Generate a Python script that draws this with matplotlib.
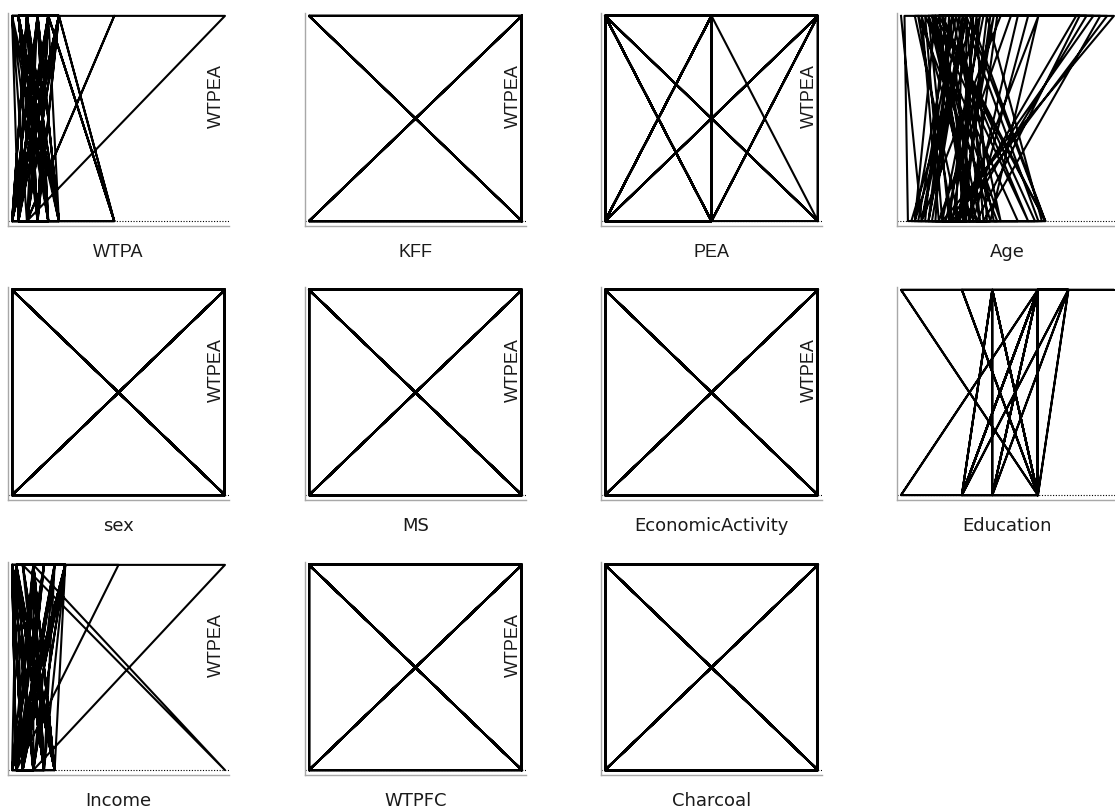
import matplotlib
matplotlib.use('Agg')
from matplotlib import pyplot as plt

# response variable, one value per respondent
WTPEA = [1, 0, 1, 1, 0, 0, 1, 0, 1, 0,
         0, 1, 1, 0, 1, 0, 0, 1, 1, 0,
         1, 0, 0, 1, 0, 1, 1, 0, 0, 1,
         0, 1, 0, 1, 1, 0, 1, 0, 0, 1,
         1, 1, 0, 0, 1, 0, 1, 1, 0, 1,
         0, 0, 1, 0, 1, 1, 0, 1, 0, 0,
         1, 0, 1, 1, 0, 1, 0, 0, 1, 0,
         1, 1, 0, 1, 0, 0, 1, 0, 1, 1,
         0, 1, 0, 0, 1, 1, 0, 1, 0, 1,
         1, 0, 1, 0, 0, 1, 1, 0, 1, 0]

WTPA = [120, 0, 70, 170, 480, 0, 220, 120, 30, 170,
        70, 1000, 220, 480, 170, 30, 120, 220, 30, 170,
        70, 220, 0, 170, 120, 30, 220, 480, 30, 120,
        170, 0, 220, 70, 120, 220, 30, 170, 70, 0,
        30, 120, 220, 30, 70, 170, 120, 30, 220, 120,
        30, 170, 70, 0, 220, 120, 30, 170, 480, 30,
        170, 120, 30, 220, 70, 480, 70, 170, 30, 120,
        0, 220, 30, 170, 120, 0, 220, 70, 120, 220,
        30, 170, 70, 0, 120, 30, 220, 170, 30, 0,
        70, 120, 30, 220, 0, 170, 30, 120, 70, 0]

KFF = [1, 1, 0, 1, 1, 1, 1, 1, 1, 0,
       1, 1, 1, 1, 1, 0, 1, 1, 1, 1,
       1, 1, 1, 1, 0, 1, 1, 1, 1, 1,
       1, 1, 1, 1, 0, 1, 1, 1, 1, 1,
       1, 0, 1, 1, 1, 1, 1, 1, 1, 1,
       0, 1, 1, 1, 1, 1, 1, 1, 1, 1,
       0, 1, 1, 1, 1, 1, 1, 0, 1, 1,
       1, 1, 1, 1, 1, 0, 1, 1, 1, 1,
       1, 1, 1, 0, 1, 1, 1, 1, 1, 1,
       1, 0, 1, 1, 1, 1, 1, 1, 0, 1]

PEA = [0, 2, 0, 1, 1, 0, 0, 1, 2, 2,
       0, 1, 2, 0, 2, 0, 0, 0, 1, 0,
       2, 1, 0, 0, 1, 1, 0, 0, 1, 1,
       0, 2, 2, 2, 1, 1, 0, 0, 0, 1,
       1, 0, 0, 1, 1, 0, 0, 2, 1, 0,
       0, 1, 1, 1, 0, 0, 2, 2, 1, 0,
       0, 1, 2, 1, 1, 0, 0, 1, 1, 2,
       2, 0, 0, 1, 0, 0, 0, 1, 0, 2,
       0, 1, 1, 0, 2, 0, 2, 0, 1, 1,
       2, 2, 0, 0, 1, 1, 0, 0, 1, 0]

Age = [18, 24, 35, 80, 30, 60, 28, 22, 41, 33,
       20, 19, 46, 38, 27, 44, 25, 31, 72, 36,
       43, 59, 40, 24, 29, 50, 38, 60, 45, 33,
       26, 37, 42, 76, 22, 35, 45, 31, 57, 30,
       40, 29, 37, 23, 34, 47, 26, 55, 39, 32,
       28, 58, 36, 34, 69, 42, 30, 25, 52, 21,
       39, 36, 44, 78, 33, 23, 46, 27, 37, 60,
       29, 35, 41, 28, 37, 37, 37, 24, 47, 74,
       32, 40, 43, 26, 36, 52, 38, 30, 55, 27,
       39, 35, 58, 44, 22, 33, 70, 40, 26, 32]

sex = [1, 1, 0, 1, 0, 0, 1, 1, 0, 1,
       0, 0, 1, 1, 0, 1, 1, 0, 0, 1,
       1, 0, 1, 0, 0, 1, 0, 1, 1, 0,
       1, 1, 0, 0, 1, 0, 1, 0, 1, 1,
       0, 1, 0, 1, 1, 0, 0, 1, 0, 0,
       1, 0, 1, 1, 0, 1, 0, 0, 1, 1,
       0, 1, 1, 0, 1, 0, 1, 1, 0, 0,
       1, 0, 0, 1, 1, 0, 1, 0, 1, 0,
       0, 1, 1, 0, 0, 1, 1, 0, 1, 1,
       1, 0, 0, 1, 0, 1, 0, 1, 1, 0]

MS = [0, 1, 1, 0, 1, 1, 0, 0, 1, 0,
      1, 1, 0, 0, 1, 0, 1, 1, 0, 1,
      0, 0, 1, 1, 0, 1, 1, 0, 1, 0,
      0, 1, 1, 0, 0, 1, 0, 1, 0, 1,
      1, 0, 1, 0, 1, 1, 0, 0, 1, 1,
      0, 1, 0, 0, 1, 1, 1, 0, 0, 1,
      1, 0, 0, 1, 1, 0, 1, 0, 1, 1,
      0, 1, 1, 0, 0, 1, 0, 1, 1, 0,
      1, 0, 1, 1, 0, 0, 1, 1, 0, 0,
      0, 1, 1, 0, 1, 0, 1, 0, 0, 1]

EconomicActivity = [1, 0, 0, 1, 1, 0, 1, 0, 0, 1,
                    1, 0, 1, 0, 1, 1, 0, 0, 1, 0,
                    1, 1, 0, 0, 1, 0, 1, 1, 0, 1,
                    0, 0, 1, 1, 0, 1, 1, 0, 1, 0,
                    1, 1, 0, 1, 0, 0, 1, 0, 1, 1,
                    0, 0, 1, 1, 0, 1, 0, 1, 1, 0,
                    0, 1, 0, 1, 1, 0, 0, 1, 0, 1,
                    1, 0, 1, 0, 0, 1, 1, 0, 1, 0,
                    0, 1, 0, 1, 1, 0, 1, 0, 0, 1,
                    1, 1, 0, 0, 1, 0, 0, 1, 1, 0]

Education = [9, 9, 0, 9, 0, 9, 4, 9, 6, 4,
             9, 9, 11, 6, 6, 9, 9, 11, 9, 4,
             11, 9, 9, 9, 6, 9, 9, 9, 9, 9,
             4, 9, 9, 9, 9, 9, 9, 9, 9, 9,
             14, 9, 9, 9, 9, 4, 9, 9, 9, 9,
             9, 9, 9, 6, 9, 9, 9, 9, 9, 9,
             6, 4, 9, 9, 9, 6, 4, 9, 9, 9,
             9, 11, 4, 9, 9, 9, 6, 6, 11, 9,
             9, 9, 9, 9, 4, 9, 9, 9, 9, 9,
             0, 9, 9, 9, 0, 9, 9, 9, 9, 9]

Income = [400, 1700, 1200, 2700, 200, 1700, 400, 2200, 2700, 200,
          1200, 400, 700, 10200, 1200, 2200, 400, 5200, 1700, 700,
          2700, 1200, 400, 2200, 1700, 700, 400, 1700, 200, 1200,
          2200, 200, 2200, 700, 1700, 200, 2700, 1200, 200, 400,
          2700, 1700, 700, 400, 1200, 2200, 700, 10200, 1200, 400,
          1700, 1700, 400, 700, 2200, 2200, 400, 200, 1200, 700,
          2200, 1200, 400, 1200, 700, 200, 2200, 400, 2700, 200,
          1700, 400, 1700, 1200, 400, 700, 2700, 1700, 400, 200,
          700, 1200, 2200, 400, 2700, 200, 700, 1200, 1200, 200,
          1700, 400, 200, 700, 1700, 1200, 400, 2200, 200, 400]

WTPFC = [0, 0, 1, 0, 1, 1, 0, 1, 1, 0,
         0, 1, 0, 1, 1, 0, 0, 1, 0, 1,
         1, 0, 1, 1, 0, 0, 1, 0, 1, 1,
         0, 1, 0, 0, 1, 1, 0, 1, 1, 0,
         1, 0, 0, 1, 1, 0, 1, 1, 0, 0,
         1, 1, 0, 1, 0, 0, 1, 1, 0, 1,
         0, 0, 1, 0, 1, 1, 0, 0, 1, 1,
         1, 0, 1, 1, 0, 1, 0, 0, 1, 0,
         1, 1, 0, 0, 1, 0, 1, 0, 1, 1,
         0, 1, 0, 1, 1, 0, 0, 1, 0, 1]

Charcoal = [1, 0, 1, 0, 0, 1, 1, 0, 1, 1,
            0, 0, 1, 1, 0, 1, 0, 1, 0, 0,
            1, 1, 0, 1, 1, 0, 0, 1, 0, 1,
            1, 0, 0, 1, 0, 1, 1, 0, 0, 1,
            0, 1, 1, 0, 1, 0, 0, 1, 1, 0,
            1, 0, 1, 0, 0, 1, 1, 0, 1, 1,
            0, 1, 0, 1, 1, 0, 0, 1, 0, 0,
            1, 1, 0, 0, 1, 1, 0, 1, 0, 1,
            0, 0, 1, 1, 0, 1, 0, 0, 1, 1,
            1, 0, 1, 0, 1, 0, 1, 1, 0, 0]

# name, values, font of the x label, show the WTPEA label
panels = [('WTPA', WTPA, 'Liberation Sans', True),
          ('KFF', KFF, 'Liberation Sans', True),
          ('PEA', PEA, 'Liberation Sans', True),
          ('Age', Age, 'DejaVu Sans', False),
          ('sex', sex, 'DejaVu Sans', True),
          ('MS', MS, 'DejaVu Sans', True),
          ('EconomicActivity', EconomicActivity, 'DejaVu Sans', True),
          ('Education', Education, 'DejaVu Sans', False),
          ('Income', Income, 'DejaVu Sans', True),
          ('WTPFC', WTPFC, 'DejaVu Sans', True),
          ('Charcoal', Charcoal, 'DejaVu Sans', False)]

FW, FH = 1115, 810
col_left = [8, 305, 601, 897]
row_top = [13, 287, 562]
W, H = 221, 213

fig = plt.figure(figsize=(FW / 100, FH / 100), dpi=100)

for k, (name, xs, font, ylab) in enumerate(panels):
    r, c = divmod(k, 4)
    ax = fig.add_axes([col_left[c] / FW, 1 - (row_top[r] + H) / FH, W / FW, H / FH])
    ax.plot(xs, WTPEA, color='black', lw=1.5)
    ax.axhline(min(WTPEA), color='black', ls=(0, (1, 1.5)), lw=0.8)
    lo, hi = min(xs), max(xs)
    pad = (hi - lo) * 0.019
    ax.set_xlim(lo - pad, hi + pad)
    ylo, yhi = min(WTPEA), max(WTPEA)
    ax.set_ylim(ylo - 0.024 * (yhi - ylo), yhi + 0.014 * (yhi - ylo))
    ax.set_xticks([])
    ax.set_yticks([])
    for s in ['top', 'right']:
        ax.spines[s].set_visible(False)
    for s in ['left', 'bottom']:
        ax.spines[s].set_color('#a8a8a8')
        ax.spines[s].set_linewidth(1.0)
    ax.text(0.5, -31 / H, name, transform=ax.transAxes, ha='center',
            va='baseline', fontsize=13, family=font, color='#1a1a1a')
    if ylab:
        ax.text(1 - 13 / W, 0.61, 'WTPEA', transform=ax.transAxes,
                rotation=90, ha='center', va='center', fontsize=13,
                family='Liberation Sans', color='#1a1a1a')

fig.savefig('out.png', dpi=100)
